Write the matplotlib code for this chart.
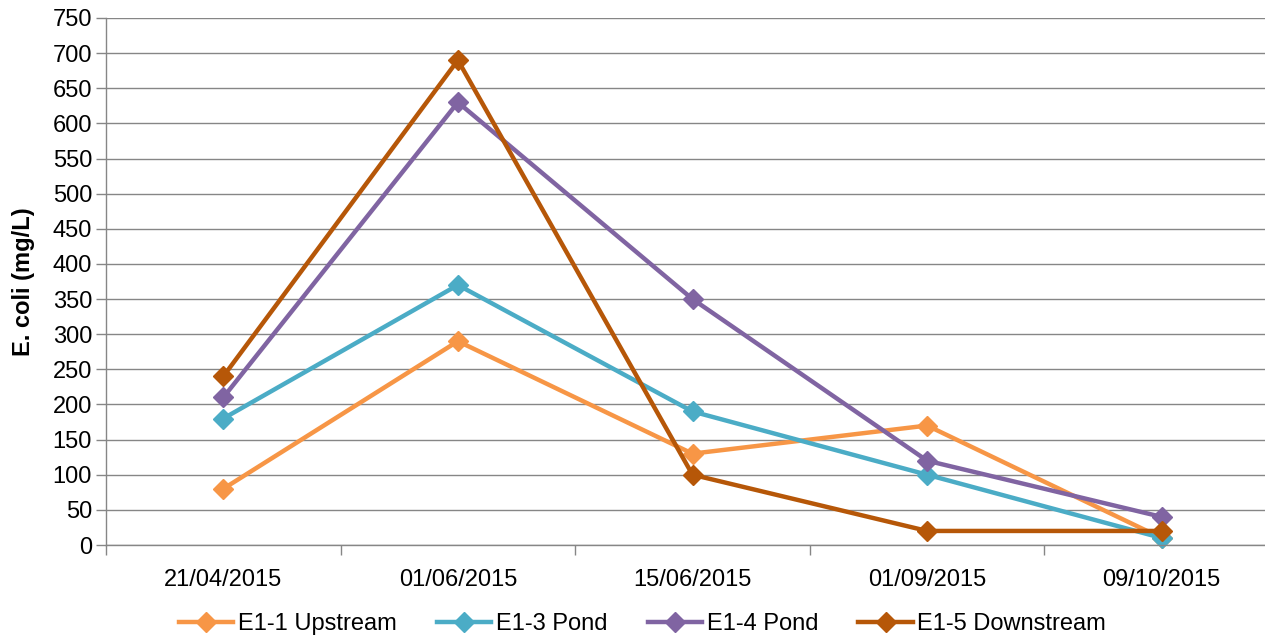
import matplotlib
matplotlib.use("Agg")
import matplotlib.pyplot as plt
import numpy as np

plt.rcParams['font.family'] = ['Liberation Sans', 'DejaVu Sans']

dates = ["21/04/2015", "01/06/2015", "15/06/2015", "01/09/2015", "09/10/2015"]
upstream = [80, 290, 130, 170, 10]
pond3 = [180, 370, 190, 100, 10]
pond4 = [210, 630, 350, 120, 40]
downstream = [240, 690, 100, 20, 20]

series = [
    ("E1-1 Upstream", upstream, "#F79646"),
    ("E1-3 Pond", pond3, "#4BACC6"),
    ("E1-4 Pond", pond4, "#8064A2"),
    ("E1-5 Downstream", downstream, "#B65708"),
]

W, H = 1265, 636
fig = plt.figure(figsize=(W/100, H/100), dpi=100)
left = 106 / W
right = 1279 / W
bottom = (H - 545) / H
top = (H - 18) / H
ax = fig.add_axes([left, bottom, right - left, top - bottom])

x = np.arange(len(dates))
for name, vals, col in series:
    ax.plot(x, vals, color=col, lw=3.2, marker="D", ms=10, label=name,
            solid_joinstyle="round", clip_on=False)

ax.set_xlim(-0.5, len(dates) - 0.5)
ax.set_ylim(0, 750)
ax.set_yticks(np.arange(0, 751, 50))
ax.set_xticks(x)
ax.set_xticklabels(dates)
ax.set_xticks(np.arange(-0.5, len(dates), 1.0), minor=True)
ax.tick_params(axis='x', which='major', length=0, pad=17, labelsize=17)
ax.tick_params(axis='x', which='minor', length=7, color='#868686', width=1)
ax.tick_params(axis='y', length=7, color='#868686', width=1, labelsize=17, pad=3)
ax.yaxis.grid(True, color='#868686', lw=1)
ax.set_axisbelow(True)
for s in ['top', 'right']:
    ax.spines[s].set_visible(False)
for s in ['left', 'bottom']:
    ax.spines[s].set_color('#868686')
    ax.spines[s].set_linewidth(1)
ax.set_ylabel("E. coli (mg/L)", fontsize=17, fontweight='bold')
ax.yaxis.set_label_coords((35 - 106) / (1279 - 106), 0.5)

fig.legend(loc='center', bbox_to_anchor=(0.508, 1 - 624 / H), ncol=4,
           frameon=False, fontsize=17, handlelength=2.3, columnspacing=1.7,
           handletextpad=0.2)

fig.savefig("out.png", dpi=100)
